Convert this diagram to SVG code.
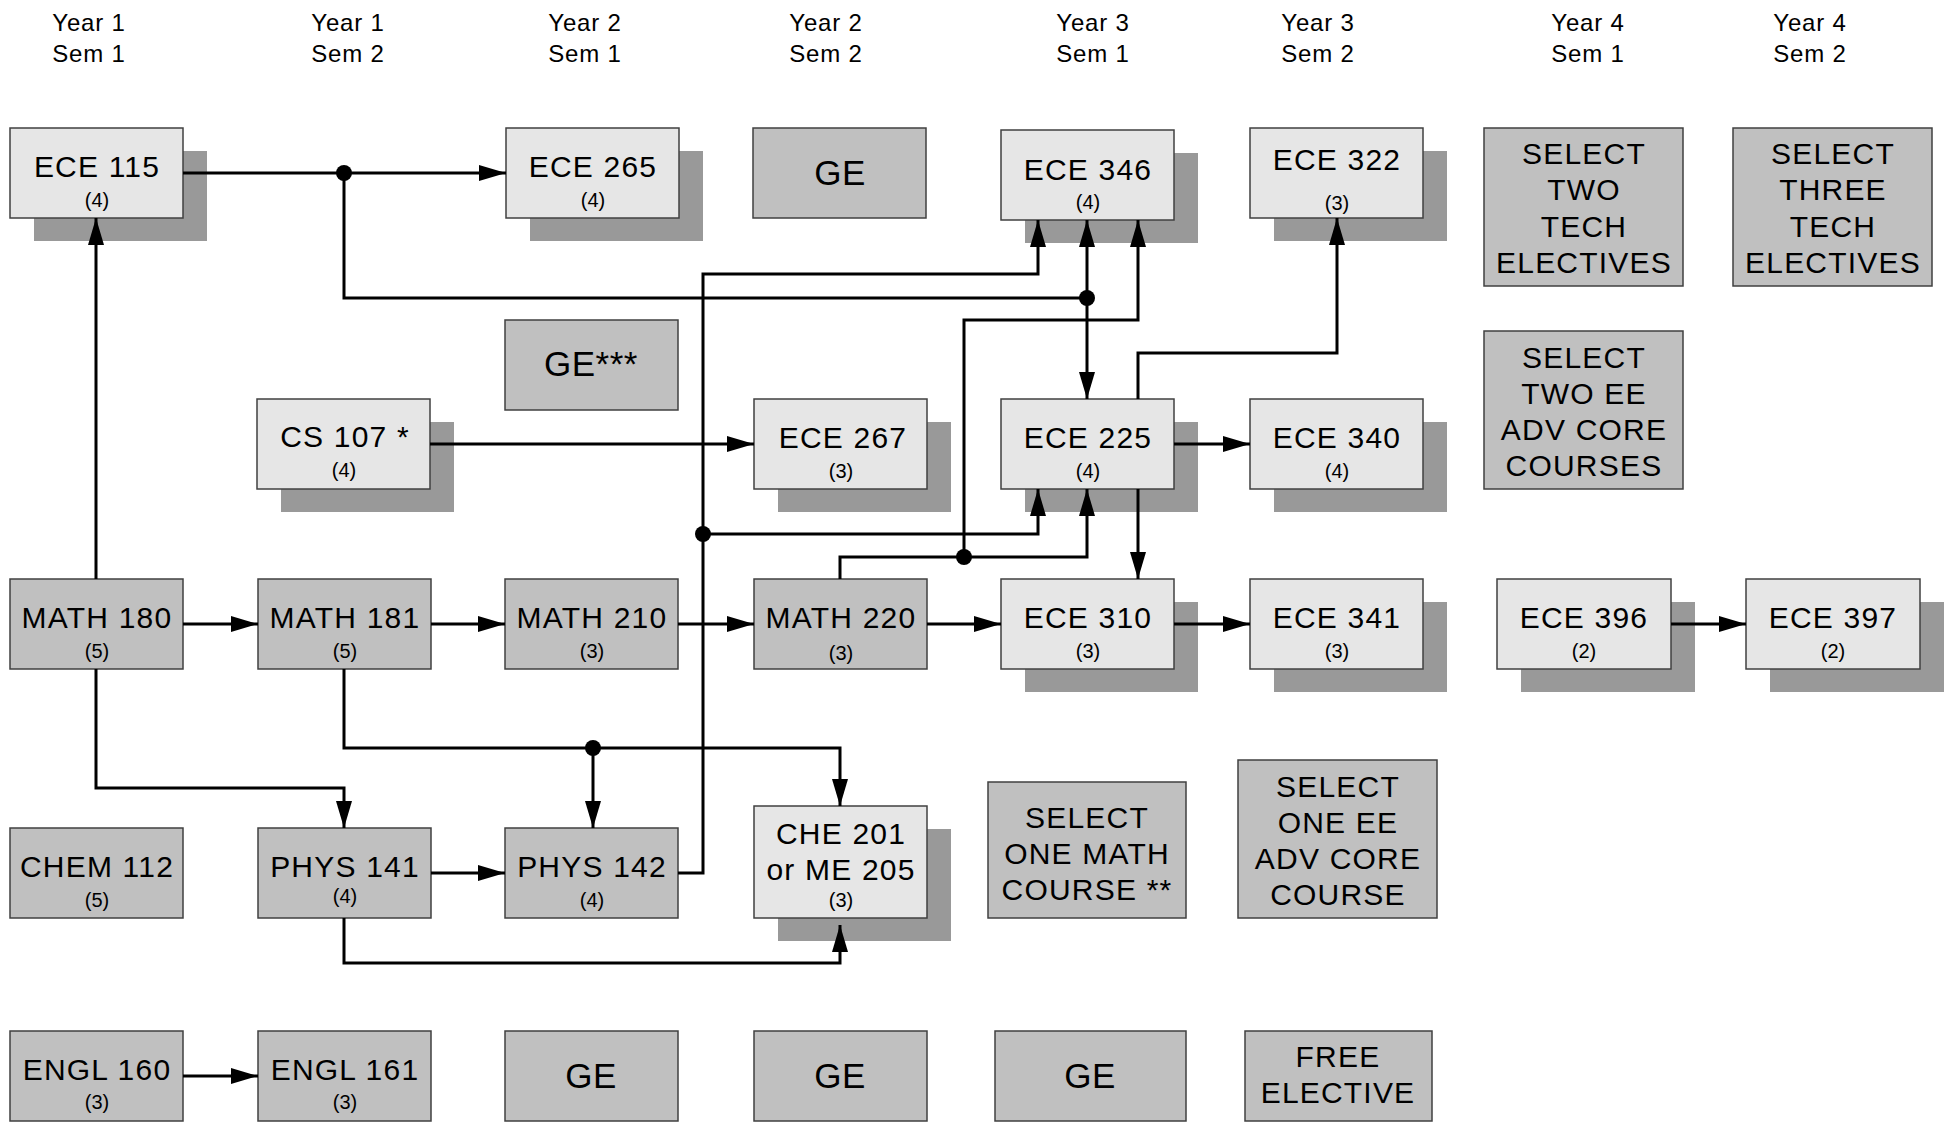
<svg xmlns="http://www.w3.org/2000/svg" width="1952" height="1123" viewBox="0 0 1952 1123">
<defs>
<style>
text{font-family:"Liberation Sans",Arial,sans-serif;fill:#000}
.lt{fill:#e6e6e6;stroke:#404040;stroke-width:1.5}
.dk{fill:#c0c0c0;stroke:#404040;stroke-width:1.5}
.sh{fill:#999999}
.nm{font-size:30px;letter-spacing:1.2px;text-anchor:middle}
.cr{font-size:20px;text-anchor:middle}
.ge{font-size:35px;letter-spacing:0.5px;text-anchor:middle}
.hd{font-size:24px;letter-spacing:0.8px;text-anchor:middle}
.ln{fill:none;stroke:#000;stroke-width:3}
.ar{marker-end:url(#arr)}
.dot{fill:#000}
</style>
<marker id="arr" markerUnits="userSpaceOnUse" markerWidth="28" markerHeight="16" refX="27" refY="8" orient="auto">
<path d="M0,0 L27,8 L0,16 z" fill="#000"/>
</marker>
</defs>
<rect width="1952" height="1123" fill="#ffffff"/>

<g id="headers">
<text class="hd" x="89" y="31">Year 1</text><text class="hd" x="89" y="62">Sem 1</text>
<text class="hd" x="348" y="31">Year 1</text><text class="hd" x="348" y="62">Sem 2</text>
<text class="hd" x="585" y="31">Year 2</text><text class="hd" x="585" y="62">Sem 1</text>
<text class="hd" x="826" y="31">Year 2</text><text class="hd" x="826" y="62">Sem 2</text>
<text class="hd" x="1093" y="31">Year 3</text><text class="hd" x="1093" y="62">Sem 1</text>
<text class="hd" x="1318" y="31">Year 3</text><text class="hd" x="1318" y="62">Sem 2</text>
<text class="hd" x="1588" y="31">Year 4</text><text class="hd" x="1588" y="62">Sem 1</text>
<text class="hd" x="1810" y="31">Year 4</text><text class="hd" x="1810" y="62">Sem 2</text>
</g>

<g id="ece115"><rect class="sh" x="34" y="151" width="173" height="90"/><rect class="lt" x="10" y="128" width="173" height="90"/><text class="nm" x="97" y="177">ECE 115</text><text class="cr" x="97" y="207">(4)</text></g>
<g id="ece265"><rect class="sh" x="530" y="151" width="173" height="90"/><rect class="lt" x="506" y="128" width="173" height="90"/><text class="nm" x="593" y="177">ECE 265</text><text class="cr" x="593" y="207">(4)</text></g>
<g id="ge-y2s2-top"><rect class="dk" x="753" y="128" width="173" height="90"/><text class="ge" x="840" y="185">GE</text></g>
<g id="ece346"><rect class="sh" x="1025" y="153" width="173" height="90"/><rect class="lt" x="1001" y="130" width="173" height="90"/><text class="nm" x="1088" y="180">ECE 346</text><text class="cr" x="1088" y="209">(4)</text></g>
<g id="ece322"><rect class="sh" x="1274" y="151" width="173" height="90"/><rect class="lt" x="1250" y="128" width="173" height="90"/><text class="nm" x="1337" y="170">ECE 322</text><text class="cr" x="1337" y="210">(3)</text></g>
<g id="tech2"><rect class="dk" x="1484" y="128" width="199" height="158"/><text class="nm" x="1584" y="164">SELECT</text><text class="nm" x="1584" y="200">TWO</text><text class="nm" x="1584" y="237">TECH</text><text class="nm" x="1584" y="273">ELECTIVES</text></g>
<g id="tech3"><rect class="dk" x="1733" y="128" width="199" height="158"/><text class="nm" x="1833" y="164">SELECT</text><text class="nm" x="1833" y="200">THREE</text><text class="nm" x="1833" y="237">TECH</text><text class="nm" x="1833" y="273">ELECTIVES</text></g>

<g id="ge3star"><rect class="dk" x="505" y="320" width="173" height="90"/><text class="ge" x="591" y="376">GE***</text></g>
<g id="cs107"><rect class="sh" x="281" y="422" width="173" height="90"/><rect class="lt" x="257" y="399" width="173" height="90"/><text class="nm" x="345" y="447">CS 107 *</text><text class="cr" x="344" y="477">(4)</text></g>
<g id="ece267"><rect class="sh" x="778" y="422" width="173" height="90"/><rect class="lt" x="754" y="399" width="173" height="90"/><text class="nm" x="843" y="448">ECE 267</text><text class="cr" x="841" y="478">(3)</text></g>
<g id="ece225"><rect class="sh" x="1025" y="422" width="173" height="90"/><rect class="lt" x="1001" y="399" width="173" height="90"/><text class="nm" x="1088" y="448">ECE 225</text><text class="cr" x="1088" y="478">(4)</text></g>
<g id="ece340"><rect class="sh" x="1274" y="422" width="173" height="90"/><rect class="lt" x="1250" y="399" width="173" height="90"/><text class="nm" x="1337" y="448">ECE 340</text><text class="cr" x="1337" y="478">(4)</text></g>
<g id="eeadv2"><rect class="dk" x="1484" y="331" width="199" height="158"/><text class="nm" x="1584" y="368">SELECT</text><text class="nm" x="1584" y="404">TWO EE</text><text class="nm" x="1584" y="440">ADV CORE</text><text class="nm" x="1584" y="476">COURSES</text></g>

<g id="math180"><rect class="dk" x="10" y="579" width="173" height="90"/><text class="nm" x="97" y="628">MATH 180</text><text class="cr" x="97" y="658">(5)</text></g>
<g id="math181"><rect class="dk" x="258" y="579" width="173" height="90"/><text class="nm" x="345" y="628">MATH 181</text><text class="cr" x="345" y="658">(5)</text></g>
<g id="math210"><rect class="dk" x="505" y="579" width="173" height="90"/><text class="nm" x="592" y="628">MATH 210</text><text class="cr" x="592" y="658">(3)</text></g>
<g id="math220"><rect class="dk" x="754" y="579" width="173" height="90"/><text class="nm" x="841" y="628">MATH 220</text><text class="cr" x="841" y="660">(3)</text></g>
<g id="ece310"><rect class="sh" x="1025" y="602" width="173" height="90"/><rect class="lt" x="1001" y="579" width="173" height="90"/><text class="nm" x="1088" y="628">ECE 310</text><text class="cr" x="1088" y="658">(3)</text></g>
<g id="ece341"><rect class="sh" x="1274" y="602" width="173" height="90"/><rect class="lt" x="1250" y="579" width="173" height="90"/><text class="nm" x="1337" y="628">ECE 341</text><text class="cr" x="1337" y="658">(3)</text></g>
<g id="ece396"><rect class="sh" x="1521" y="602" width="174" height="90"/><rect class="lt" x="1497" y="579" width="174" height="90"/><text class="nm" x="1584" y="628">ECE 396</text><text class="cr" x="1584" y="658">(2)</text></g>
<g id="ece397"><rect class="sh" x="1770" y="602" width="174" height="90"/><rect class="lt" x="1746" y="579" width="174" height="90"/><text class="nm" x="1833" y="628">ECE 397</text><text class="cr" x="1833" y="658">(2)</text></g>

<g id="chem112"><rect class="dk" x="10" y="828" width="173" height="90"/><text class="nm" x="97" y="877">CHEM 112</text><text class="cr" x="97" y="907">(5)</text></g>
<g id="phys141"><rect class="dk" x="258" y="828" width="173" height="90"/><text class="nm" x="345" y="877">PHYS 141</text><text class="cr" x="345" y="903">(4)</text></g>
<g id="phys142"><rect class="dk" x="505" y="828" width="173" height="90"/><text class="nm" x="592" y="877">PHYS 142</text><text class="cr" x="592" y="907">(4)</text></g>
<g id="che201"><rect class="sh" x="778" y="829" width="173" height="112"/><rect class="lt" x="754" y="806" width="173" height="112"/><text class="nm" x="841" y="844">CHE 201</text><text class="nm" x="841" y="880">or ME 205</text><text class="cr" x="841" y="907">(3)</text></g>
<g id="mathsel"><rect class="dk" x="988" y="782" width="198" height="136"/><text class="nm" x="1087" y="828">SELECT</text><text class="nm" x="1087" y="864">ONE MATH</text><text class="nm" x="1087" y="900">COURSE **</text></g>
<g id="eeadv1"><rect class="dk" x="1238" y="760" width="199" height="158"/><text class="nm" x="1338" y="797">SELECT</text><text class="nm" x="1338" y="833">ONE EE</text><text class="nm" x="1338" y="869">ADV CORE</text><text class="nm" x="1338" y="905">COURSE</text></g>

<g id="engl160"><rect class="dk" x="10" y="1031" width="173" height="90"/><text class="nm" x="97" y="1080">ENGL 160</text><text class="cr" x="97" y="1109">(3)</text></g>
<g id="engl161"><rect class="dk" x="258" y="1031" width="173" height="90"/><text class="nm" x="345" y="1080">ENGL 161</text><text class="cr" x="345" y="1109">(3)</text></g>
<g id="ge-y2s1"><rect class="dk" x="505" y="1031" width="173" height="90"/><text class="ge" x="591" y="1088">GE</text></g>
<g id="ge-y2s2"><rect class="dk" x="754" y="1031" width="173" height="90"/><text class="ge" x="840" y="1088">GE</text></g>
<g id="ge-y3s1"><rect class="dk" x="995" y="1031" width="191" height="90"/><text class="ge" x="1090" y="1088">GE</text></g>
<g id="free"><rect class="dk" x="1245" y="1031" width="187" height="90"/><text class="nm" x="1338" y="1067">FREE</text><text class="nm" x="1338" y="1103">ELECTIVE</text></g>

<g id="connectors">
<path class="ln ar" d="M183,173 H506"/>
<path class="ln" d="M344,173 V298 H1087"/>
<path class="ln ar" d="M1087,298 V220"/>
<path class="ln ar" d="M1087,298 V399"/>
<path class="ln ar" d="M678,873 H703 V274 H1038 V220"/>
<path class="ln ar" d="M703,534 H1038 V489"/>
<path class="ln ar" d="M840,579 V557 H1087 V489"/>
<path class="ln ar" d="M964,557 V320 H1138 V220"/>
<path class="ln ar" d="M1138,399 V353 H1337 V218"/>
<path class="ln ar" d="M1174,444 H1250"/>
<path class="ln ar" d="M430,444 H754"/>
<path class="ln ar" d="M1138,489 V579"/>
<path class="ln ar" d="M96,579 V218"/>
<path class="ln ar" d="M183,624 H258"/>
<path class="ln ar" d="M431,624 H505"/>
<path class="ln ar" d="M678,624 H754"/>
<path class="ln ar" d="M927,624 H1001"/>
<path class="ln ar" d="M1174,624 H1250"/>
<path class="ln ar" d="M1671,624 H1746"/>
<path class="ln ar" d="M96,669 V788 H344 V828"/>
<path class="ln ar" d="M344,669 V748 H840 V806"/>
<path class="ln ar" d="M593,748 V828"/>
<path class="ln ar" d="M431,873 H505"/>
<path class="ln ar" d="M344,918 V963 H840 V925"/>
<path class="ln ar" d="M183,1076 H258"/>
<circle class="dot" cx="344" cy="173" r="8"/>
<circle class="dot" cx="1087" cy="298" r="8"/>
<circle class="dot" cx="703" cy="534" r="8"/>
<circle class="dot" cx="964" cy="557" r="8"/>
<circle class="dot" cx="593" cy="748" r="8"/>
</g>
</svg>
